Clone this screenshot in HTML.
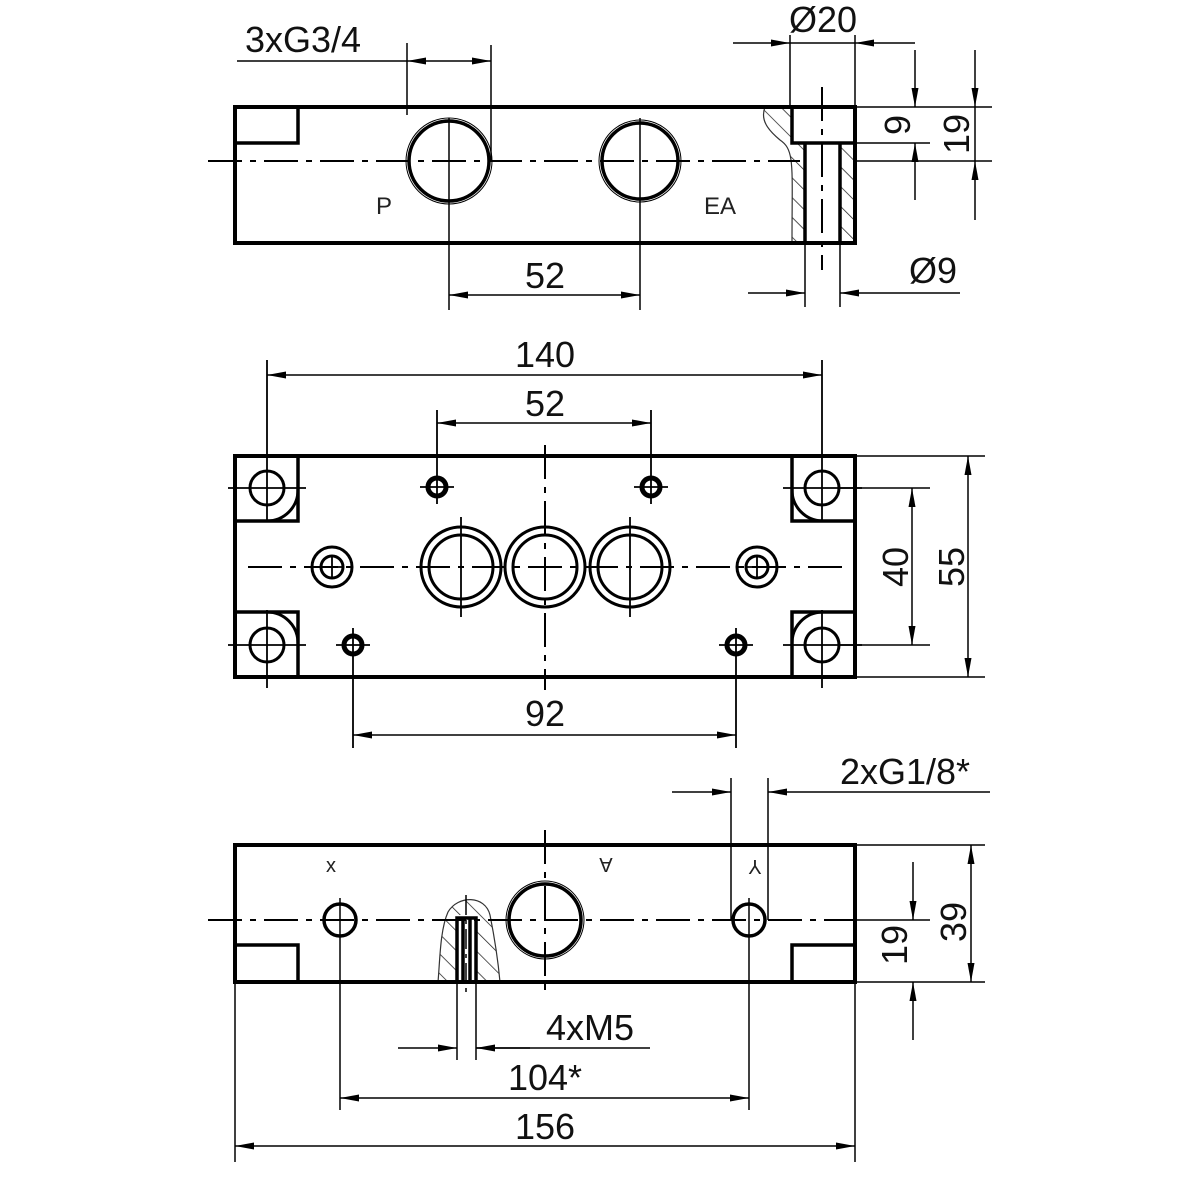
<!DOCTYPE html>
<html><head><style>body{margin:0;background:#fff}svg{display:block}</style></head><body>
<svg width="1200" height="1200" viewBox="0 0 1200 1200" xmlns="http://www.w3.org/2000/svg" font-family="Liberation Sans, Arial, sans-serif">
<defs>
<marker id="a" markerUnits="userSpaceOnUse" markerWidth="20" markerHeight="8" refX="19" refY="3.5" orient="auto"><path d="M0,0 L19,3.5 L0,7z" fill="#000"/></marker>
<marker id="b" markerUnits="userSpaceOnUse" markerWidth="20" markerHeight="8" refX="0" refY="3.5" orient="auto"><path d="M19,0 L0,3.5 L19,7z" fill="#000"/></marker>
<pattern id="h" patternUnits="userSpaceOnUse" width="14" height="14" patternTransform="rotate(-45)"><line x1="0" y1="0" x2="0" y2="14" stroke="#222" stroke-width="1.5"/></pattern>
</defs>
<g fill="none" stroke="#000">
<path d="M765,107 C760,120 768,130 780,140 C795,150 792,165 792,243 L805,243 L805,143 L792,143 L792,107Z" fill="url(#h)" stroke="#333" stroke-width="1.2"/>
<rect x="840" y="143" width="13" height="100" fill="url(#h)" stroke="none"/>
<rect x="235" y="107" width="620" height="136" stroke-width="4"/>
<path d="M235,143 H298 V107" stroke-width="3.5"/>
<path d="M792,107 V143 H855 M805,143 V243 M840,143 V243" stroke-width="3.5"/>
<line x1="208" y1="161" x2="800" y2="161" stroke-width="2" stroke-dasharray="34,8,6,8"/>
<line x1="822" y1="87" x2="822" y2="270" stroke-width="2" stroke-dasharray="34,8,6,8"/>
<circle cx="449" cy="161" r="40" stroke-width="3.5"/><circle cx="449" cy="161" r="43" stroke-width="1"/>
<circle cx="640" cy="161" r="38" stroke-width="3.5"/><circle cx="640" cy="161" r="41" stroke-width="1"/>
<line x1="449" y1="118" x2="449" y2="310" stroke-width="1.5"/>
<line x1="640" y1="118" x2="640" y2="310" stroke-width="1.5"/>
<line x1="407" y1="115" x2="407" y2="43" stroke-width="1.5"/>
<line x1="491" y1="45" x2="491" y2="161" stroke-width="1.5"/>
<line x1="237" y1="61" x2="407" y2="61" stroke-width="1.5"/>
<line x1="407" y1="61" x2="491" y2="61" stroke-width="1.5" marker-start="url(#b)" marker-end="url(#a)"/>
<line x1="449" y1="295" x2="640" y2="295" stroke-width="1.5" marker-start="url(#b)" marker-end="url(#a)"/>
<line x1="790" y1="35" x2="790" y2="107" stroke-width="1.5"/>
<line x1="855" y1="35" x2="855" y2="107" stroke-width="1.5"/>
<line x1="733" y1="43" x2="790" y2="43" stroke-width="1.5" marker-end="url(#a)"/>
<line x1="915" y1="43" x2="855" y2="43" stroke-width="1.5" marker-end="url(#a)"/>
<line x1="790" y1="43" x2="855" y2="43" stroke-width="1.5"/>
<line x1="855" y1="107" x2="992" y2="107" stroke-width="1.5"/>
<line x1="855" y1="143" x2="930" y2="143" stroke-width="1.5"/>
<line x1="855" y1="161" x2="992" y2="161" stroke-width="1.5"/>
<line x1="915" y1="50" x2="915" y2="107" stroke-width="1.5" marker-end="url(#a)"/>
<line x1="915" y1="200" x2="915" y2="143" stroke-width="1.5" marker-end="url(#a)"/>
<line x1="975" y1="50" x2="975" y2="107" stroke-width="1.5" marker-end="url(#a)"/>
<line x1="975" y1="220" x2="975" y2="161" stroke-width="1.5" marker-end="url(#a)"/>
<line x1="975" y1="107" x2="975" y2="161" stroke-width="1.5"/>
<line x1="805" y1="243" x2="805" y2="307" stroke-width="1.5"/>
<line x1="840" y1="243" x2="840" y2="307" stroke-width="1.5"/>
<line x1="748" y1="293" x2="805" y2="293" stroke-width="1.5" marker-end="url(#a)"/>
<line x1="960" y1="293" x2="840" y2="293" stroke-width="1.5" marker-end="url(#a)"/>

<rect x="235" y="456" width="620" height="221" stroke-width="4"/>
<path d="M235,521 H298 V456 M235,612 H298 V677 M855,521 H792 V456 M855,612 H792 V677" stroke-width="3.5"/>
<path d="M267,521 A31,31 0 0 0 298,490 M267,612 A31,31 0 0 1 298,643 M822,521 A31,31 0 0 1 792,490 M822,612 A31,31 0 0 0 792,643" stroke-width="3"/>
<g stroke-width="3">
<circle cx="267" cy="488" r="17"/><circle cx="267" cy="645" r="17"/><circle cx="822" cy="488" r="17"/><circle cx="822" cy="645" r="17"/>
<circle cx="437" cy="487" r="9" stroke-width="5"/><circle cx="651" cy="487" r="9" stroke-width="5"/><circle cx="353" cy="645" r="9" stroke-width="5"/><circle cx="736" cy="645" r="9" stroke-width="5"/>
<circle cx="332" cy="567" r="20"/><circle cx="332" cy="567" r="11"/>
<circle cx="757" cy="567" r="20"/><circle cx="757" cy="567" r="11"/>
<circle cx="461" cy="567" r="40"/><circle cx="461" cy="567" r="32"/>
<circle cx="545" cy="567" r="40"/><circle cx="545" cy="567" r="32"/>
<circle cx="630" cy="567" r="40"/><circle cx="630" cy="567" r="32"/>
</g>
<g stroke-width="1.8">
<path d="M228,488 H306 M228,645 H306 M783,488 H862 M783,645 H862"/>
<path d="M267,360 V522 M267,610 V688 M822,360 V522 M822,610 V688"/>
<path d="M420,487 H454 M437,410 V504 M634,487 H668 M651,410 V504 M336,645 H370 M353,628 V748 M719,645 H753 M736,628 V748"/>
<path d="M322,567 H342 M332,555 V579 M747,567 H767 M757,555 V579"/>
<path d="M461,517 V617 M630,517 V617"/>
</g>
<line x1="248" y1="567" x2="848" y2="567" stroke-width="2" stroke-dasharray="34,8,6,8"/>
<line x1="545" y1="445" x2="545" y2="690" stroke-width="2" stroke-dasharray="34,8,6,8"/>
<line x1="267" y1="375" x2="822" y2="375" stroke-width="1.5" marker-start="url(#b)" marker-end="url(#a)"/>
<line x1="437" y1="423" x2="651" y2="423" stroke-width="1.5" marker-start="url(#b)" marker-end="url(#a)"/>
<line x1="353" y1="735" x2="736" y2="735" stroke-width="1.5" marker-start="url(#b)" marker-end="url(#a)"/>
<line x1="840" y1="488" x2="930" y2="488" stroke-width="1.5"/>
<line x1="840" y1="645" x2="930" y2="645" stroke-width="1.5"/>
<line x1="855" y1="456" x2="985" y2="456" stroke-width="1.5"/>
<line x1="855" y1="677" x2="985" y2="677" stroke-width="1.5"/>
<line x1="912" y1="488" x2="912" y2="645" stroke-width="1.5" marker-start="url(#b)" marker-end="url(#a)"/>
<line x1="968" y1="456" x2="968" y2="677" stroke-width="1.5" marker-start="url(#b)" marker-end="url(#a)"/>

<path d="M438,982 C440,960 440,930 448,912 C458,895 485,895 490,915 C495,940 498,960 500,982Z" fill="url(#h)" stroke="#333" stroke-width="1.2"/>
<rect x="457" y="915" width="19" height="67" fill="#fff" stroke="none"/>
<rect x="235" y="845" width="620" height="137" stroke-width="4"/>
<path d="M235,945 H298 V982 M855,945 H792 V982" stroke-width="3.5"/>
<path d="M457,982 V918 H476 V982 M463,918 V982 M470,918 V982" stroke-width="3.5"/>
<circle cx="340" cy="920" r="16" stroke-width="3.5"/>
<circle cx="749" cy="920" r="16" stroke-width="3.5"/>
<circle cx="545" cy="920" r="36" stroke-width="3.5"/><circle cx="545" cy="920" r="39" stroke-width="1"/>
<line x1="208" y1="920" x2="855" y2="920" stroke-width="2" stroke-dasharray="34,8,6,8"/>
<line x1="545" y1="830" x2="545" y2="995" stroke-width="2" stroke-dasharray="34,8,6,8"/>
<line x1="466" y1="895" x2="466" y2="995" stroke-width="1.5" stroke-dasharray="20,5,4,5"/>
<g stroke-width="1.5">
<path d="M340,898 V1110 M749,898 V1110 M731,778 V920 M768,778 V920 M457,982 V1060 M476,982 V1060 M235,982 V1162 M855,982 V1162"/>
<path d="M855,845 H985 M855,920 H930 M855,982 H985 M650,1048 H476"/>
</g>
<line x1="672" y1="792" x2="731" y2="792" stroke-width="1.5" marker-end="url(#a)"/>
<line x1="990" y1="792" x2="768" y2="792" stroke-width="1.5" marker-end="url(#a)"/>
<line x1="913" y1="862" x2="913" y2="920" stroke-width="1.5" marker-end="url(#a)"/>
<line x1="913" y1="1040" x2="913" y2="982" stroke-width="1.5" marker-end="url(#a)"/>
<line x1="971" y1="845" x2="971" y2="982" stroke-width="1.5" marker-start="url(#b)" marker-end="url(#a)"/>
<line x1="398" y1="1048" x2="457" y2="1048" stroke-width="1.5" marker-end="url(#a)"/>
<line x1="530" y1="1048" x2="476" y2="1048" stroke-width="1.5" marker-end="url(#a)"/>
<line x1="340" y1="1098" x2="749" y2="1098" stroke-width="1.5" marker-start="url(#b)" marker-end="url(#a)"/>
<line x1="235" y1="1146" x2="855" y2="1146" stroke-width="1.5" marker-start="url(#b)" marker-end="url(#a)"/>
</g>
<g fill="#111" font-size="36" text-anchor="middle">
<text x="303" y="52">3xG3/4</text>
<text x="823" y="32">Ø20</text>
<text x="545" y="288">52</text>
<text x="933" y="283">Ø9</text>
<text transform="translate(910,125) rotate(-90)">9</text>
<text transform="translate(969,134) rotate(-90)">19</text>
<text x="545" y="367">140</text>
<text x="545" y="416">52</text>
<text x="545" y="726">92</text>
<text transform="translate(908,567) rotate(-90)">40</text>
<text transform="translate(964,567) rotate(-90)">55</text>
<text x="905" y="784">2xG1/8*</text>
<text transform="translate(907,945) rotate(-90)">19</text>
<text transform="translate(966,922) rotate(-90)">39</text>
<text x="590" y="1040">4xM5</text>
<text x="545" y="1090">104*</text>
<text x="545" y="1139">156</text>
</g>
<g fill="#222" font-size="24" text-anchor="middle">
<text x="384" y="214">P</text>
<text x="720" y="214">EA</text>
</g>
<g fill="#222" font-size="20" text-anchor="middle">
<text x="331" y="872">x</text>
<text transform="translate(606,858) rotate(180)">A</text>
<text transform="translate(755,860) rotate(180)">Y</text>
</g>
</svg>
</body></html>
